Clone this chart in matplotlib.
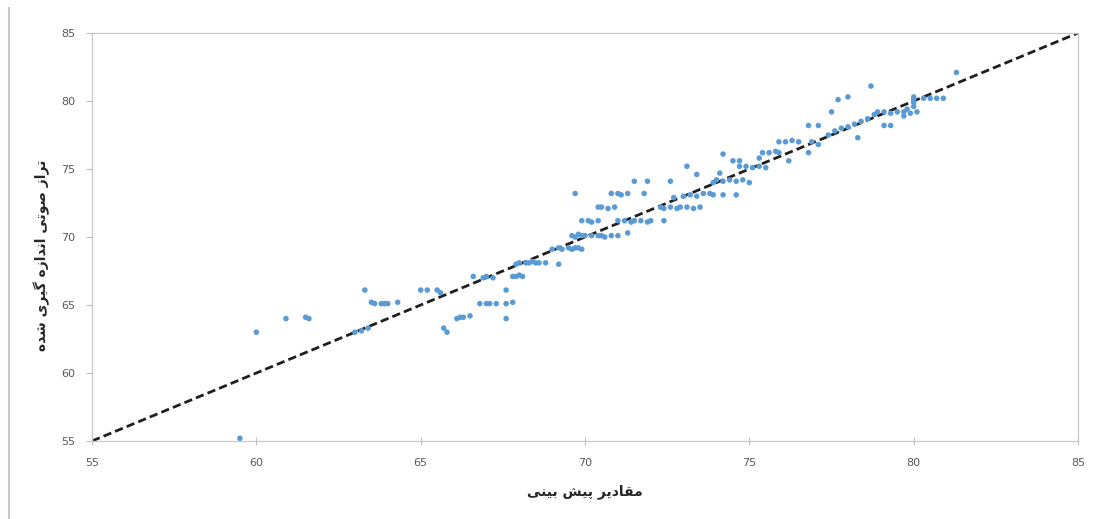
import matplotlib
matplotlib.use('Agg')
from matplotlib import pyplot as plt
from matplotlib.lines import Line2D
import numpy as np

pred = [59.5, 60.0, 60.9, 61.5, 61.6, 63.0, 63.2, 63.4, 63.3,
        63.5, 63.6, 63.8, 63.9, 64.0, 64.3,
        65.0, 65.2, 65.5, 65.6, 65.7, 65.8,
        66.1, 66.2, 66.3, 66.5,
        66.6, 66.9, 67.0, 67.2,
        66.8, 67.0, 67.1, 67.3,
        67.6, 67.6, 67.8, 67.6,
        67.8, 67.9, 68.0, 68.1,
        67.9, 68.0, 68.2, 68.3, 68.4, 68.5, 68.6, 68.8, 69.2,
        69.0, 69.2, 69.3, 69.5, 69.6, 69.7, 69.8, 69.9,
        69.6, 69.7, 69.8, 69.9, 70.0,
        70.2, 70.4, 70.5, 70.6, 70.8, 71.0, 71.3,
        69.7,
        69.9, 70.1, 70.2, 70.4,
        70.4, 70.5, 70.7, 70.9,
        70.8, 71.0, 71.1, 71.3, 71.8,
        71.0, 71.2, 71.4, 71.5, 71.7, 71.9, 72.0, 72.4,
        71.5, 71.9, 72.6,
        72.3, 72.4, 72.6, 72.8, 72.9, 73.1, 73.3, 73.5,
        72.7, 73.0, 73.2, 73.4,
        73.1, 73.4,
        73.6, 73.8, 73.9,
        73.9, 74.0, 74.2, 74.4, 74.6, 74.8, 75.0,
        74.1, 74.2, 74.6, 74.2,
        74.5, 74.7,
        74.7, 74.9, 75.1, 75.3, 75.5,
        75.3, 75.4, 75.6, 75.8, 75.9, 76.2,
        75.9, 76.1, 76.3, 76.5, 76.9, 77.1, 76.8,
        76.8, 77.1,
        77.5, 77.7, 78.0, 78.7,
        77.4, 77.6, 77.8, 78.0, 78.2, 78.4, 78.6, 78.8,
        78.3, 79.1, 79.3,
        78.9, 79.1, 79.3, 79.5, 79.7, 79.9, 80.1,
        79.7, 79.8, 80.0, 80.0, 80.0, 80.0,
        80.3, 80.5, 80.7, 80.9,
        81.3]

measured = [55.2, 63.0, 64.0, 64.1, 64.0, 63.0, 63.1, 63.3, 66.1,
            65.2, 65.1, 65.1, 65.1, 65.1, 65.2,
            66.1, 66.1, 66.1, 65.9, 63.3, 63.0,
            64.0, 64.1, 64.1, 64.2,
            67.1, 67.0, 67.1, 67.0,
            65.1, 65.1, 65.1, 65.1,
            66.1, 65.1, 65.2, 64.0,
            67.1, 67.1, 67.2, 67.1,
            68.0, 68.1, 68.1, 68.1, 68.2, 68.1, 68.1, 68.1, 68.0,
            69.1, 69.2, 69.1, 69.2, 69.1, 69.2, 69.2, 69.1,
            70.1, 70.0, 70.2, 70.1, 70.1,
            70.1, 70.1, 70.1, 70.0, 70.1, 70.1, 70.3,
            73.2,
            71.2, 71.2, 71.1, 71.2,
            72.2, 72.2, 72.1, 72.2,
            73.2, 73.2, 73.1, 73.2, 73.2,
            71.2, 71.2, 71.1, 71.2, 71.2, 71.1, 71.2, 71.2,
            74.1, 74.1, 74.1,
            72.2, 72.1, 72.2, 72.1, 72.2, 72.2, 72.1, 72.2,
            72.9, 73.0, 73.1, 73.0,
            75.2, 74.6,
            73.2, 73.2, 73.1,
            74.0, 74.2, 74.1, 74.2, 74.1, 74.2, 74.0,
            74.7, 73.1, 73.1, 76.1,
            75.6, 75.6,
            75.2, 75.2, 75.1, 75.2, 75.1,
            75.8, 76.2, 76.2, 76.3, 76.2, 75.6,
            77.0, 77.0, 77.1, 77.0, 77.0, 76.8, 76.2,
            78.2, 78.2,
            79.2, 80.1, 80.3, 81.1,
            77.5, 77.8, 78.0, 78.1, 78.3, 78.5, 78.7, 79.0,
            77.3, 78.2, 78.2,
            79.2, 79.2, 79.1, 79.2, 79.2, 79.1, 79.2,
            78.9, 79.4, 79.6, 79.9, 80.1, 80.3,
            80.2, 80.2, 80.2, 80.2,
            82.1]

x_label = 'مقادیر پیش بینی'
y_label = 'تراز صوتی اندازه گیری شده'
ticks = [55, 60, 65, 70, 75, 80, 85]

# matplotlib has no arabic shaping, so do a small one by hand:
# (isolated, final, initial, medial) presentation forms
forms = {
    'ا': ('\uFE8D', '\uFE8E', None, None),
    'ب': ('\uFE8F', '\uFE90', '\uFE91', '\uFE92'),
    'پ': ('\uFB56', '\uFB57', '\uFB58', '\uFB59'),
    'ت': ('\uFE95', '\uFE96', '\uFE97', '\uFE98'),
    'د': ('\uFEA9', '\uFEAA', None, None),
    'ر': ('\uFEAD', '\uFEAE', None, None),
    'ز': ('\uFEAF', '\uFEB0', None, None),
    'ش': ('\uFEB5', '\uFEB6', '\uFEB7', '\uFEB8'),
    'ص': ('\uFEB9', '\uFEBA', '\uFEBB', '\uFEBC'),
    'ق': ('\uFED5', '\uFED6', '\uFED7', '\uFED8'),
    'گ': ('\uFB92', '\uFB93', '\uFB94', '\uFB95'),
    'م': ('\uFEE1', '\uFEE2', '\uFEE3', '\uFEE4'),
    'ن': ('\uFEE5', '\uFEE6', '\uFEE7', '\uFEE8'),
    'ه': ('\uFEE9', '\uFEEA', '\uFEEB', '\uFEEC'),
    'و': ('\uFEED', '\uFEEE', None, None),
    'ی': ('\uFBFC', '\uFBFD', '\uFBFE', '\uFBFF'),
}


def shape(text):
    out = []
    for i, ch in enumerate(text):
        if ch not in forms:
            out.append(ch)
            continue
        prev = text[i - 1] if i > 0 else ' '
        nxt = text[i + 1] if i < len(text) - 1 else ' '
        join_prev = prev in forms and forms[prev][2] is not None
        join_next = forms[ch][2] is not None and nxt in forms
        if join_prev and join_next:
            out.append(forms[ch][3])
        elif join_prev:
            out.append(forms[ch][1])
        elif join_next:
            out.append(forms[ch][2])
        else:
            out.append(forms[ch][0])
    return ''.join(reversed(out))


fig = plt.figure(figsize=(10.98, 5.19), dpi=100)
ax = fig.add_axes([0.0838, 0.1503, 0.8980, 0.7861])

ax.plot([55, 85], [55, 85], color='#1f1f1f', linestyle=(0, (3, 1.5)), linewidth=2.0, zorder=2)
ax.scatter(pred, measured, s=16, color='#5B9BD5', edgecolors='none', zorder=3)

ax.set_xlim(55, 85)
ax.set_ylim(55, 85)
ax.set_xticks(ticks)
ax.set_yticks(ticks)

for s in ax.spines.values():
    s.set_color('#c8c8c8')
    s.set_linewidth(0.9)

ax.tick_params(axis='x', direction='inout', length=6, width=0.8, color='#bfbfbf',
               labelsize=8, labelcolor='#595959', pad=9)
ax.tick_params(axis='y', direction='out', length=4, width=0.8, color='#bfbfbf',
               labelsize=8, labelcolor='#595959', pad=8)

ax.set_xlabel(shape(x_label), family=['DejaVu Sans'], fontsize=10, fontweight='bold', color='#262626')
ax.set_ylabel(shape(y_label), family=['DejaVu Sans'], fontsize=10, fontweight='bold', color='#262626')
ax.xaxis.set_label_coords(0.5, -0.105)
ax.yaxis.set_label_coords(-0.043, 0.456)

# gray border line on the left edge of the screenshot
fig.add_artist(Line2D([0.008, 0.008], [0.0, 0.985], transform=fig.transFigure,
                      color='#c8c8c8', linewidth=1.5))

fig.savefig('out.png', dpi=100)
